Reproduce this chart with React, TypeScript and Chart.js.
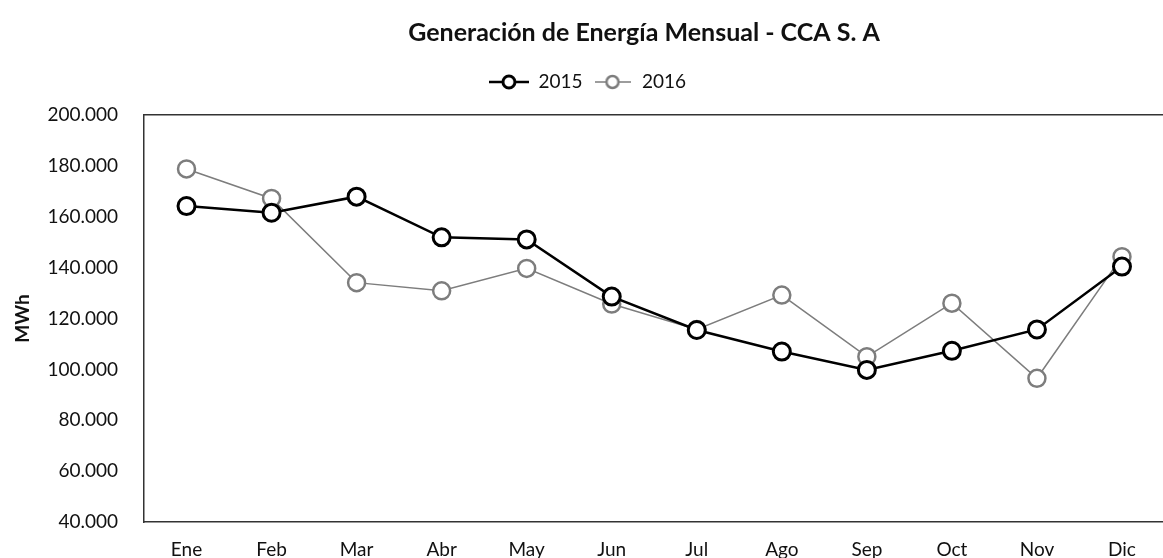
import React, { useEffect, useRef } from 'react';
import { Chart, registerables } from 'chart.js';

Chart.register(...registerables);

const months = ['Ene', 'Feb', 'Mar', 'Abr', 'May', 'Jun', 'Jul', 'Ago', 'Sep', 'Oct', 'Nov', 'Dic'];
const gen2015 = [164200, 161600, 167900, 151900, 151100, 128600, 115500, 107000, 99800, 107300, 115700, 140400];
const gen2016 = [178800, 167200, 134100, 130900, 139700, 125700, 115700, 129200, 105000, 126000, 96500, 144300];
const yTicks = [40000, 60000, 80000, 100000, 120000, 140000, 160000, 180000, 200000];
const seriesNames = ['2015', '2016'];
const titleText = 'Generación de Energía Mensual - CCA S. A';
const yTitle = 'MWh';

const FONT = 'Lato';
const TEXT = '#111111';
const AXIS = '#333333';
const C2015 = '#000000';
const C2016 = '#7d7d7d';

function fmt(v: number): string {
  return String(Math.round(v)).replace(/\B(?=(\d{3})+(?!\d))/g, '.');
}

function legendSymbol(color: string, lineWidth: number, markerWidth: number, width: number) {
  const c = document.createElement('canvas');
  c.width = width;
  c.height = 20;
  const ctx = c.getContext('2d')!;
  ctx.strokeStyle = color;
  ctx.lineWidth = lineWidth;
  ctx.beginPath();
  ctx.moveTo(0, 10);
  ctx.lineTo(width, 10);
  ctx.stroke();
  ctx.beginPath();
  ctx.arc(width / 2, 10, 6, 0, Math.PI * 2);
  ctx.fillStyle = '#ffffff';
  ctx.fill();
  ctx.lineWidth = markerWidth;
  ctx.stroke();
  return c;
}

const titlePlugin = {
  id: 'customTitle',
  afterDraw(chart: any) {
    const ctx = chart.ctx;
    ctx.save();
    ctx.font = `bold 25px ${FONT}`;
    ctx.fillStyle = TEXT;
    ctx.textAlign = 'center';
    ctx.textBaseline = 'alphabetic';
    ctx.fillText(titleText, 644, 40.5);
    ctx.restore();
  },
};

export default function App() {
  const ref = useRef<HTMLCanvasElement | null>(null);

  useEffect(() => {
    if (!ref.current) return;
    const symbols = [legendSymbol(C2015, 2.5, 3, 40), legendSymbol(C2016, 1.5, 2.5, 36)];
    const tickFont = { family: FONT, size: 19 };
    const chart = new Chart(ref.current, {
      type: 'line',
      data: {
        labels: months,
        datasets: [
          {
            label: seriesNames[0],
            data: gen2015,
            borderColor: C2015,
            backgroundColor: '#ffffff',
            borderWidth: 2.5,
            pointRadius: 8.5,
            pointBorderWidth: 3,
            pointBackgroundColor: '#ffffff',
            pointBorderColor: C2015,
            tension: 0,
            order: 1,
          },
          {
            label: seriesNames[1],
            data: gen2016,
            borderColor: C2016,
            backgroundColor: '#ffffff',
            borderWidth: 1.5,
            pointRadius: 8.5,
            pointBorderWidth: 2.5,
            pointBackgroundColor: '#ffffff',
            pointBorderColor: C2016,
            tension: 0,
            order: 2,
          },
        ],
      },
      options: {
        responsive: false,
        animation: false,
        devicePixelRatio: 1,
        layout: { padding: { left: 5, right: 6, top: 62.5, bottom: 0 } },
        plugins: {
          title: { display: false },
          tooltip: { enabled: false },
          legend: {
            display: true,
            position: 'top',
            align: 'center',
            labels: {
              usePointStyle: true,
              pointStyleWidth: 40,
              padding: 10,
              color: TEXT,
              font: tickFont,
              generateLabels: (c: any) => {
                const items = (Chart.defaults.plugins.legend.labels as any).generateLabels(c);
                return items.map((it: any, i: number) => ({ ...it, pointStyle: symbols[i] }));
              },
            },
          },
        },
        scales: {
          x: {
            type: 'category',
            position: 'bottom',
            offset: true,
            grid: { display: false, drawTicks: false },
            border: { display: true, color: AXIS, width: 1.5 },
            ticks: { padding: 16, color: TEXT, font: tickFont, maxRotation: 0, autoSkip: false },
            afterFit: (s: any) => { s.height = 40; },
          },
          xTop: {
            type: 'category',
            position: 'top',
            labels: months,
            offset: true,
            grid: { display: false, drawTicks: false },
            border: { display: true, color: AXIS, width: 1.5 },
            ticks: { display: false },
            afterFit: (s: any) => { s.height = 13.5; },
          },
          y: {
            type: 'linear',
            min: 40000,
            max: 200000,
            grid: { display: false, drawTicks: false },
            border: { display: true, color: AXIS, width: 1.5 },
            afterBuildTicks: (s: any) => { s.ticks = yTicks.map((v) => ({ value: v })); },
            ticks: {
              padding: 26,
              color: TEXT,
              font: tickFont,
              callback: (v: any) => fmt(Number(v)),
            },
            title: {
              display: true,
              text: yTitle,
              color: TEXT,
              font: { family: FONT, size: 19, weight: 'bold' },
              padding: { top: 6, bottom: 0 },
            },
            afterFit: (s: any) => { s.width = 139; },
          },
        },
      } as any,
      plugins: [titlePlugin],
    });
    return () => chart.destroy();
  }, []);

  return (
    <div
      style={{
        position: 'fixed',
        left: 0,
        top: 0,
        width: 1163,
        height: 558,
        overflow: 'hidden',
        background: '#ffffff',
      }}
    >
      <canvas ref={ref} width={1176} height={562} style={{ display: 'block' }} />
    </div>
  );
}
